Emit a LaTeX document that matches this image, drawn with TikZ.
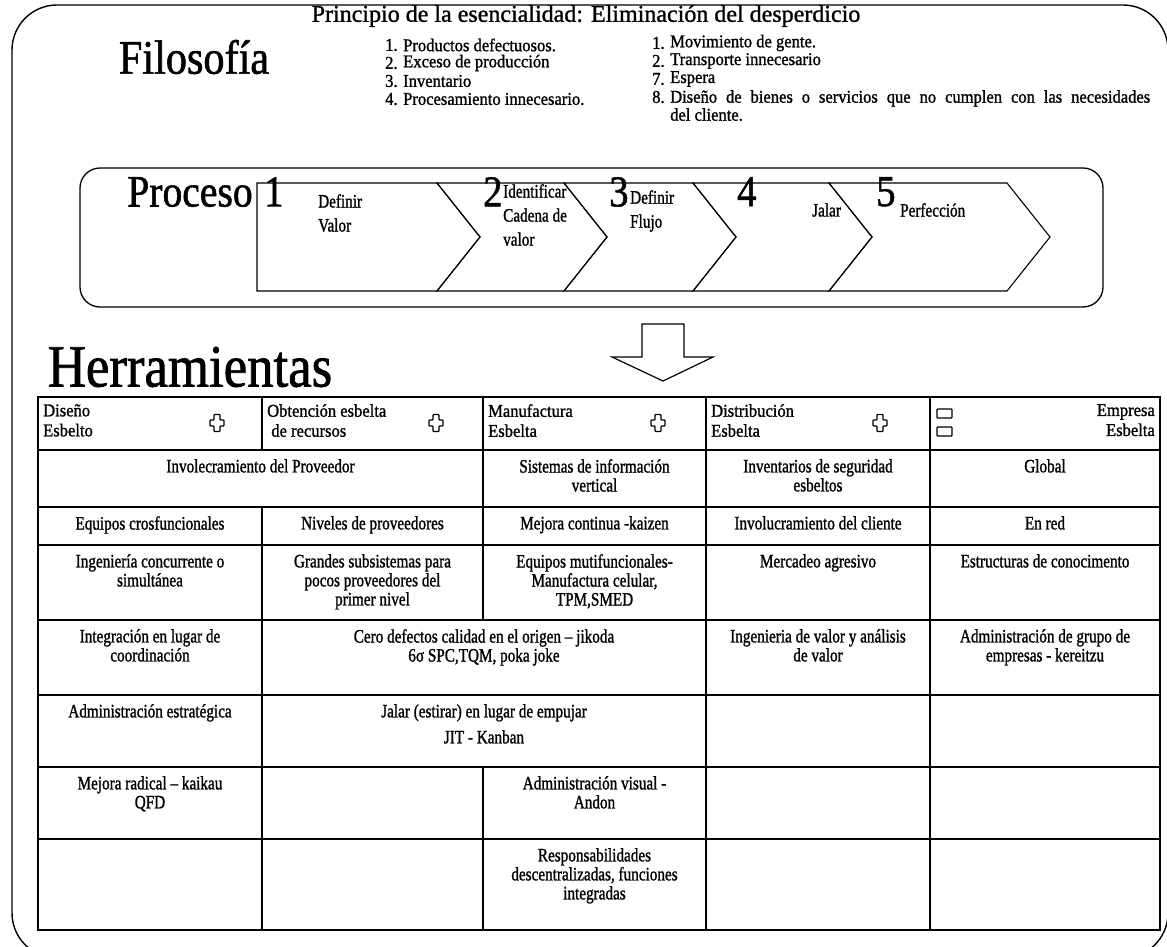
\documentclass[tikz,border=0pt]{standalone}
\usepackage{fontspec}
\setmainfont{Liberation Serif}[FakeStretch=0.8, FakeBold=1.2]
\newfontfamily\titlefont{Liberation Serif}[FakeStretch=0.88, FakeBold=1.2]
\newfontfamily\widefont{Liberation Serif}[FakeBold=1.2]
\newfontfamily\listfont{Liberation Serif}[FakeStretch=0.92, FakeBold=1.2]
\newcommand\crossat[2]{%
  \draw[icon] (#1-3,#2-8.5) -- (#1+3,#2-8.5) -- (#1+3,#2-3) -- (#1+7,#2-3) -- (#1+7,#2+3)
    -- (#1+3,#2+3) -- (#1+3,#2+8.5) -- (#1-3,#2+8.5) -- (#1-3,#2+3) -- (#1-7,#2+3)
    -- (#1-7,#2-3) -- (#1-3,#2-3) -- cycle;}
\newcommand\tcell[6]{%
  \draw[grid] (#2,#3) rectangle (#4,#5);
  \node[celltext] (#1) at ({(#2+#4)/2},#3+9) {#6};}
\newcommand\ecell[4]{\draw[grid] (#1,#2) rectangle (#3,#4);}
\begin{document}
\begin{tikzpicture}[x=1pt,y=-1pt,
  frame/.style={draw, line width=1.4pt, rounded corners=45pt},
  procbox/.style={draw, line width=1.3pt, rounded corners=20pt},
  chev/.style={draw, line width=1.1pt, line join=miter},
  grid/.style={line width=1.8pt},
  icon/.style={line width=1.2pt, rounded corners=0.8pt},
  bigtitle/.style={inner sep=0pt},
  listnum/.style={font=\listfont\fontsize{18}{18}\selectfont, anchor=west, inner sep=0pt},
  listtext/.style={font=\listfont\fontsize{18}{18}\selectfont, anchor=west, inner sep=0pt, align=left},
  celltext/.style={font=\fontsize{19}{19}\selectfont, align=center, anchor=north, inner sep=0pt},
  headtext/.style={font=\listfont\fontsize{18}{20}\selectfont, inner sep=0pt},
  digit/.style={font=\titlefont\fontsize{44}{44}\selectfont, anchor=north west, inner sep=0pt},
  chevtext/.style={font=\fontsize{19}{24}\selectfont, anchor=west, align=left, inner sep=0pt}]
\useasboundingbox (0,0) rectangle (1167,947);
\clip (0,0) rectangle (1167,947);

% outer frame
\draw[frame] (12,5) rectangle (1168,958);

% philosophy
\node[font=\widefont\fontsize{24}{26}\selectfont, inner sep=0pt] (principio) at (586,16)
  {Principio de la esencialidad: Eliminación del desperdicio};
\node[bigtitle, font=\titlefont\fontsize{48}{52}\selectfont] (filosofia) at (194,57) {Filosofía};
\foreach \n/\t [count=\i] in {1/Productos defectuosos., 2/Exceso de producción, 3/Inventario, 4/Procesamiento innecesario.}
  {\node[listnum] (ln\i) at (385,27+18*\i) {\n.};
   \node[listtext] (lt\i) at (403,27+18*\i) {\t};}
\foreach \n/\t [count=\i] in {1/Movimiento de gente., 2/Transporte innecesario, 7/Espera}
  {\node[listnum] (rn\i) at (652,25+18*\i) {\n.};
   \node[listtext] (rt\i) at (670,25+18*\i) {\t};}
\node[listnum] (rn4) at (652,97) {8.};
\node[listtext, anchor=north west] (rt4) at (670,90)
  {\makebox[480pt][s]{Diseño de bienes o servicios que no cumplen con las necesidades}\\del cliente.};

% process
\draw[procbox] (80,168) rectangle (1103,307);
\node[bigtitle, font=\titlefont\fontsize{45}{50}\selectfont] (proceso) at (190,192) {Proceso};
\def\tipA{480}\def\tipB{607}\def\tipC{736}\def\tipD{872}\def\tipE{1050}
\def\dep{43}
\draw[chev] (257,183) -- (\tipA-\dep,183) -- (\tipA,237) -- (\tipA-\dep,291) -- (257,291) -- cycle;
\draw[chev] (\tipA-\dep,183) -- (\tipB-\dep,183) -- (\tipB,237) -- (\tipB-\dep,291) -- (\tipA-\dep,291) -- (\tipA,237) -- cycle;
\draw[chev] (\tipB-\dep,183) -- (\tipC-\dep,183) -- (\tipC,237) -- (\tipC-\dep,291) -- (\tipB-\dep,291) -- (\tipB,237) -- cycle;
\draw[chev] (\tipC-\dep,183) -- (\tipD-\dep,183) -- (\tipD,237) -- (\tipD-\dep,291) -- (\tipC-\dep,291) -- (\tipC,237) -- cycle;
\draw[chev] (\tipD-\dep,183) -- (\tipE-\dep,183) -- (\tipE,237) -- (\tipE-\dep,291) -- (\tipD-\dep,291) -- (\tipD,237) -- cycle;
\node[digit] (d1) at (264,177) {1};
\node[digit] (d2) at (483,177) {2};
\node[digit] (d3) at (609,177) {3};
\node[digit] (d4) at (737,177) {4};
\node[digit] (d5) at (876,177) {5};
\node[chevtext] (s1) at (318,213) {Definir\\Valor};
\node[chevtext] (s2) at (503,215) {Identificar\\Cadena de\\valor};
\node[chevtext] (s3) at (630,211) {Definir\\Flujo};
\node[chevtext] (s4) at (812,210) {Jalar};
\node[chevtext] (s5) at (900,210) {Perfección};

% block arrow down
\draw[line width=1.2pt, line join=miter] (642,324) -- (684,324) -- (684,357) -- (713,357)
  -- (663,381) -- (612,357) -- (642,357) -- cycle;

% tools
\node[bigtitle, font=\titlefont\fontsize{60}{62}\selectfont] (herramientas) at (190,367) {Herramientas};

\def\ca{38}\def\cb{262}\def\cc{483}\def\cd{706}\def\ce{930}\def\cf{1160}
\def\ra{397}\def\rb{450}\def\rc{507}\def\rd{545}\def\re{620}\def\rf{695}\def\rg{767}\def\rh{839}\def\ri{930}

% header row
\ecell{\ca}{\ra}{\cb}{\rb}
\ecell{\cb}{\ra}{\cc}{\rb}
\ecell{\cc}{\ra}{\cd}{\rb}
\ecell{\cd}{\ra}{\ce}{\rb}
\ecell{\ce}{\ra}{\cf}{\rb}
\node[headtext, anchor=north west, align=left] (h1) at (\ca+5,\ra+7) {Diseño\\Esbelto};
\node[headtext, anchor=north west, align=left] (h2) at (\cb+5,\ra+7) {Obtención esbelta\\\ de recursos};
\node[headtext, anchor=north west, align=left] (h3) at (\cc+5,\ra+7) {Manufactura\\Esbelta};
\node[headtext, anchor=north west, align=left] (h4) at (\cd+5,\ra+7) {Distribución\\Esbelta};
\node[headtext, anchor=north east, align=right] (h5) at (\cf-5,\ra+7) {Empresa\\Esbelta};
\crossat{217}{423}
\crossat{436}{423}
\crossat{658}{423}
\crossat{880}{423}
\draw[icon] (937,409) rectangle (952,418);
\draw[icon] (937,427) rectangle (952,436);

% row 1
\tcell{t11}{\ca}{\rb}{\cc}{\rc}{Involecramiento del Proveedor}
\tcell{t13}{\cc}{\rb}{\cd}{\rc}{Sistemas de información\\vertical}
\tcell{t14}{\cd}{\rb}{\ce}{\rc}{Inventarios de seguridad\\esbeltos}
\tcell{t15}{\ce}{\rb}{\cf}{\rc}{Global}
% row 2
\tcell{t21}{\ca}{\rc}{\cb}{\rd}{Equipos crosfuncionales}
\tcell{t22}{\cb}{\rc}{\cc}{\rd}{Niveles de proveedores}
\tcell{t23}{\cc}{\rc}{\cd}{\rd}{Mejora continua -kaizen}
\tcell{t24}{\cd}{\rc}{\ce}{\rd}{Involucramiento del cliente}
\tcell{t25}{\ce}{\rc}{\cf}{\rd}{En red}
% row 3
\tcell{t31}{\ca}{\rd}{\cb}{\re}{Ingeniería concurrente o\\simultánea}
\tcell{t32}{\cb}{\rd}{\cc}{\re}{Grandes subsistemas para\\pocos proveedores del\\primer nivel}
\tcell{t33}{\cc}{\rd}{\cd}{\re}{Equipos mutifuncionales-\\Manufactura celular,\\TPM,SMED}
\tcell{t34}{\cd}{\rd}{\ce}{\re}{Mercadeo agresivo}
\tcell{t35}{\ce}{\rd}{\cf}{\re}{Estructuras de conocimento}
% row 4
\tcell{t41}{\ca}{\re}{\cb}{\rf}{Integración en lugar de\\coordinación}
\tcell{t42}{\cb}{\re}{\cd}{\rf}{Cero defectos calidad en el origen – jikoda\\6σ SPC,TQM, poka joke}
\tcell{t44}{\cd}{\re}{\ce}{\rf}{Ingenieria de valor y análisis\\de valor}
\tcell{t45}{\ce}{\re}{\cf}{\rf}{Administración de grupo de\\empresas - kereitzu}
% row 5
\tcell{t51}{\ca}{\rf}{\cb}{\rg}{Administración estratégica}
\tcell{t52}{\cb}{\rf}{\cd}{\rg}{Jalar (estirar) en lugar de empujar\\[7pt]JIT - Kanban}
\ecell{\cd}{\rf}{\ce}{\rg}
\ecell{\ce}{\rf}{\cf}{\rg}
% row 6
\tcell{t61}{\ca}{\rg}{\cb}{\rh}{Mejora radical – kaikau\\QFD}
\ecell{\cb}{\rg}{\cc}{\rh}
\tcell{t63}{\cc}{\rg}{\cd}{\rh}{Administración visual -\\Andon}
\ecell{\cd}{\rg}{\ce}{\rh}
\ecell{\ce}{\rg}{\cf}{\rh}
% row 7
\ecell{\ca}{\rh}{\cb}{\ri}
\ecell{\cb}{\rh}{\cc}{\ri}
\tcell{t73}{\cc}{\rh}{\cd}{\ri}{Responsabilidades\\descentralizadas, funciones\\integradas}
\ecell{\cd}{\rh}{\ce}{\ri}
\ecell{\ce}{\rh}{\cf}{\ri}
\end{tikzpicture}
\end{document}
